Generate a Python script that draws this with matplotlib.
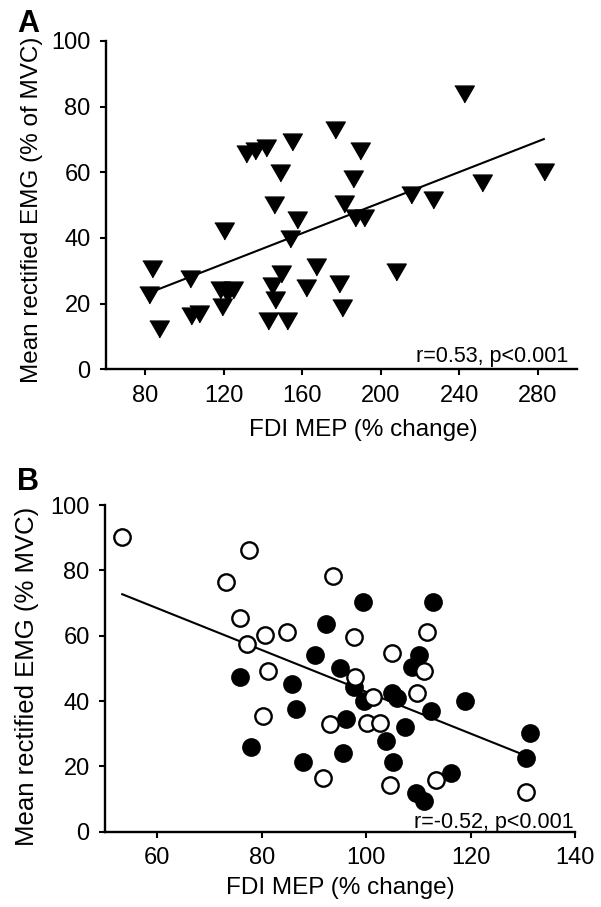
import numpy as np
import matplotlib
matplotlib.use("Agg")
import matplotlib.pyplot as plt

plt.rcParams['font.family'] = ['Liberation Sans', 'DejaVu Sans']

# panel A: FDI MEP vs EMG (% of MVC)
a_x = [83.4, 82.0, 86.8, 102.6, 103.5, 107.6, 120.0, 118.3, 121.5, 124.6, 119.0,
       131.1, 135.7, 141.5, 154.9, 176.5, 189.4, 148.6, 185.9, 145.5, 181.3, 157.4,
       154.0, 186.9, 191.5, 215.3, 226.4, 149.3, 144.7, 145.9, 142.5, 152.0, 166.8,
       162.0, 178.7, 180.4, 207.7, 242.2, 251.4, 283.1]
a_y = [30.5, 22.5, 12.4, 27.6, 16.2, 16.8, 42.1, 24.2, 23.0, 24.2, 19.0,
       65.6, 66.6, 67.4, 69.2, 72.9, 66.5, 59.9, 57.9, 49.9, 50.4, 45.4,
       39.8, 46.2, 46.2, 53.1, 51.4, 29.1, 25.4, 21.0, 14.7, 14.7, 31.0,
       24.8, 26.0, 18.6, 29.7, 83.8, 56.6, 60.2]
a_fit_x = [85.1, 283.1]
a_fit_y = [24.0, 70.1]
a_xticks = [80, 120, 160, 200, 240, 280]

# panel B: open and filled circles
b_open_x = [53.3, 77.6, 73.1, 75.9, 77.2, 80.7, 81.2, 80.2, 84.9, 93.6, 97.6, 97.8,
            101.4, 93.1, 100.1, 102.7, 104.6, 91.8, 104.9, 111.0, 109.7, 111.6, 113.4, 130.7]
b_open_y = [90.1, 86.3, 76.4, 65.4, 57.5, 60.2, 49.1, 35.3, 61.1, 78.3, 59.6, 47.3,
            41.2, 33.1, 33.2, 33.2, 14.2, 16.4, 54.7, 49.1, 42.5, 61.0, 15.9, 12.3]
b_fill_x = [75.9, 78.0, 99.4, 92.3, 90.2, 85.8, 86.6, 95.0, 97.6, 99.6, 96.2, 104.9,
            106.0, 107.5, 103.8, 105.1, 95.5, 88.0, 110.2, 108.8, 112.9, 112.5, 109.6,
            111.1, 118.9, 131.4, 130.7, 116.3]
b_fill_y = [47.3, 25.9, 70.3, 63.6, 54.2, 45.1, 37.7, 50.2, 44.3, 40.0, 34.6, 42.5,
            41.0, 32.1, 27.8, 21.2, 24.2, 21.2, 54.2, 50.4, 70.2, 37.1, 12.0,
            9.5, 40.0, 30.3, 22.5, 18.1]
b_fit_x = [53.3, 130.7]
b_fit_y = [72.7, 23.2]
b_xticks = [60, 80, 100, 120, 140]

yticks = [0, 20, 40, 60, 80, 100]

tri = [(-1, 0.866), (1, 0.866), (0, -0.866)]

fig = plt.figure(figsize=(6.01, 9.07), dpi=100)
axA = fig.add_axes([0.1764, 0.5929, 0.7837, 0.362])
axB = fig.add_axes([0.1747, 0.083, 0.782, 0.3602])


def style(ax):
    for s in ['top', 'right']:
        ax.spines[s].set_visible(False)
    for s in ['left', 'bottom']:
        ax.spines[s].set_linewidth(1.7)
    ax.tick_params(direction='out', length=4, width=1.5, labelsize=17, pad=7)
    ax.set_yticks(yticks)
    ax.set_ylim(0, 100)


axA.plot(a_fit_x, a_fit_y, color='black', lw=1.5, zorder=1)
axA.plot(a_x, a_y, ls='none', marker=tri, ms=14, color='black', zorder=2)
style(axA)
axA.set_xlim(60, 300)
axA.set_xticks(a_xticks)
axA.set_xlabel('FDI MEP (% change)', fontsize=17.5)
axA.set_ylabel('Mean rectified EMG (% of MVC)', fontsize=17.5)
axA.xaxis.set_label_coords(0.546, -0.151)
axA.yaxis.set_label_coords(-0.134, 0.485)
axA.text(0.981, 0.022, 'r=0.53, p<0.001', transform=axA.transAxes,
         ha='right', va='baseline', fontsize=15.5)

axB.plot(b_fit_x, b_fit_y, color='black', lw=1.5, zorder=1)
axB.plot(b_fill_x, b_fill_y, ls='none', marker='o', ms=11.8, mfc='black',
         mec='black', mew=1.7, zorder=2)
axB.plot(b_open_x, b_open_y, ls='none', marker='o', ms=11.8, mfc='white',
         mec='black', mew=1.7, zorder=3)
style(axB)
axB.set_xlim(50, 140)
axB.set_xticks(b_xticks)
axB.set_xlabel('FDI MEP (% change)', fontsize=17.5)
axB.set_ylabel('Mean rectified EMG (% MVC)', fontsize=18.5)
axB.xaxis.set_label_coords(0.50, -0.139)
axB.yaxis.set_label_coords(-0.140, 0.477)
axB.text(0.998, 0.011, 'r=-0.52, p<0.001', transform=axB.transAxes,
         ha='right', va='baseline', fontsize=15.5)

fig.text(0.047, 0.9735, 'A', fontsize=22, fontweight='bold', ha='center', va='center')
fig.text(0.046, 0.469, 'B', fontsize=22, fontweight='bold', ha='center', va='center')

fig.savefig('out.png', dpi=100)
